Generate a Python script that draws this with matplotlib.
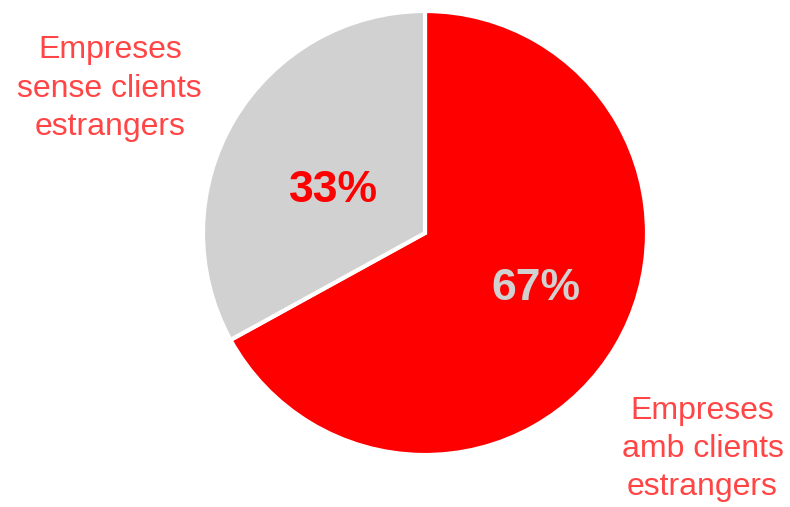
import matplotlib.pyplot as plt

plt.rcParams['font.family'] = ['Liberation Sans', 'DejaVu Sans']

# data
labels = ["Empreses\namb clients\nestrangers", "Empreses\nsense clients\nestrangers"]
values = [67, 33]
pct_labels = ["67%", "33%"]
colors = ["#ff0000", "#d1d1d1"]

fig = plt.figure(figsize=(7.9, 5.07), dpi=100)
# pie centred at (425, 233) px with radius 222 px
ax = fig.add_axes([(425 - 222) / 790, (507 - 233 - 222) / 507, 444 / 790, 444 / 507])

ax.pie(values, colors=colors, startangle=90, counterclock=False,
       wedgeprops=dict(edgecolor="white", linewidth=3))
ax.set_xlim(-1, 1)
ax.set_ylim(-1, 1)
ax.set_aspect("equal")

# percentages inside the slices
ax.text(0.50, -0.25, pct_labels[0], ha="center", va="center",
        fontsize=32, fontweight="bold", color="#d1d1d1")
ax.text(-0.41, 0.19, pct_labels[1], ha="center", va="center",
        fontsize=32, fontweight="bold", color="#ff0000")

# category labels outside
ax.text(1.25, -0.975, labels[0], ha="center", va="center", fontsize=23,
        color="#ff4545", linespacing=1.35, clip_on=False)
ax.text(-1.42, 0.65, labels[1], ha="center", va="center", fontsize=23,
        color="#ff4545", linespacing=1.38, clip_on=False)

fig.savefig("out.png", dpi=100)
